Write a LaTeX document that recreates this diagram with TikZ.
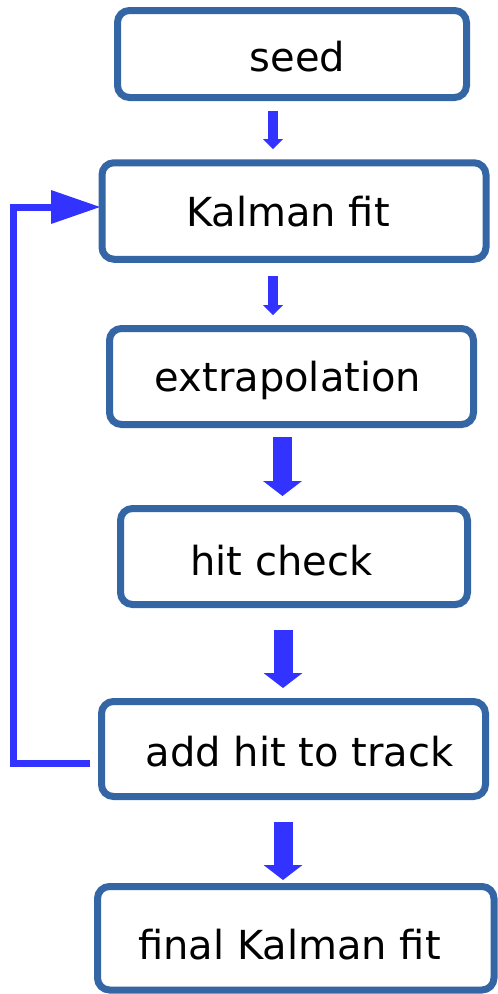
\documentclass[tikz,border=0pt]{standalone}
\usepackage{fontspec}
\setmainfont{DejaVu Sans}
\usetikzlibrary{arrows.meta}
\definecolor{boxblue}{HTML}{3465A4}
\definecolor{arrblue}{HTML}{3333FF}
\begin{document}
\begin{tikzpicture}[x=1pt,y=-1pt,
  box/.style={draw=boxblue, line width=7pt, rounded corners=12pt, inner sep=0pt, fill=white},
  lbl/.style={anchor=base, inner sep=0pt, font=\fontsize{40pt}{48pt}\selectfont},
  smallarr/.style={draw=arrblue, line width=10pt, -{Triangle[width=20pt,length=10pt,line width=0pt,fill=arrblue]}},
  bigarr/.style={draw=arrblue, line width=19pt, -{Triangle[width=39pt,length=15pt,line width=0pt,fill=arrblue]}},
  looparr/.style={draw=arrblue, line width=7pt, line join=miter, -{Triangle[width=34pt,length=49pt,line width=0pt,fill=arrblue]}}]
\useasboundingbox (0,0) rectangle (498,994);

% boxes
\node[box, minimum width=349pt, minimum height=87pt] (seed) at (292,54) {};
\node[box, minimum width=384pt, minimum height=96.5pt] (kal) at (294,211) {};
\node[box, minimum width=364pt, minimum height=96pt] (ext) at (291.5,376.5) {};
\node[box, minimum width=347pt, minimum height=96pt] (hit) at (294,556.5) {};
\node[box, minimum width=384pt, minimum height=95pt] (add) at (293.5,749) {};
\node[box, minimum width=396.5pt, minimum height=103.5pt] (fin) at (295.75,938.25) {};

% labels
\node[lbl] (tseed) at (297.5,71) {seed};
\node[lbl] (tkal) at (288,226) {Kalman fit};
\node[lbl] (text) at (288,391) {extrapolation};
\node[lbl] (thit) at (281.5,575) {hit check};
\node[lbl] (tadd) at (299.5,766) {add hit to track};
\node[lbl] (tfin) at (289.5,959) {final Kalman fit};

% arrow end points
\coordinate (a1s) at (273,111);  \coordinate (a1e) at (273,149);
\coordinate (a2s) at (273,276);  \coordinate (a2e) at (273,315);
\coordinate (a3s) at (282.5,437); \coordinate (a3e) at (282.5,496);
\coordinate (a4s) at (283,630);  \coordinate (a4e) at (283,688);
\coordinate (a5s) at (283,822);  \coordinate (a5e) at (283,880);
\coordinate (ls) at (90,763.5);
\coordinate (lb) at (13,763.5);
\coordinate (lt) at (13,207);
\coordinate (le) at (100,207);

\draw[smallarr] (a1s) -- (a1e);
\draw[smallarr] (a2s) -- (a2e);
\draw[bigarr] (a3s) -- (a3e);
\draw[bigarr] (a4s) -- (a4e);
\draw[bigarr] (a5s) -- (a5e);
\draw[looparr] (ls) -- (lb) -- (lt) -- (le);
\end{tikzpicture}
\end{document}
